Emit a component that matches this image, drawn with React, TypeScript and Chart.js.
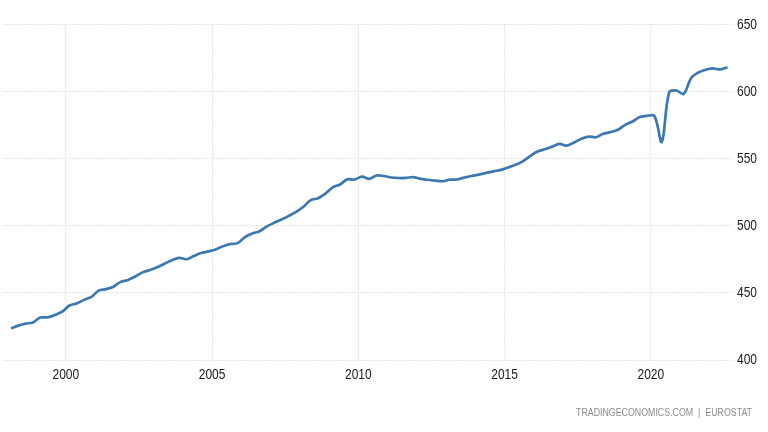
import React, { useEffect, useRef } from "react";
import { Chart, registerables } from "chart.js";

Chart.register(...registerables);

// Quarterly series starting 1998 Q1
const startYear = 1998;
const quarterlyValues: number[] = [
  423.6, 425.6, 427.1, 428.0, // 1998
  431.6, 431.8, 433.5, 436.0, // 1999
  440.6, 442.2, 444.8, 447.0, // 2000
  451.7, 452.8, 454.6, 458.2, // 2001
  459.6, 462.2, 465.3, 467.1, // 2002
  469.1, 471.7, 474.4, 476.1, // 2003
  475.1, 477.5, 479.7, 480.9, // 2004
  482.4, 484.8, 486.4, 487.1, // 2005
  491.6, 494.2, 496.0, 499.6, // 2006
  502.2, 504.7, 507.4, 510.4, // 2007
  514.2, 519.1, 520.6, 524.0, // 2008
  528.6, 530.8, 534.6, 534.5, // 2009
  536.6, 535.0, 537.5, 537.1, // 2010
  536.0, 535.6, 535.7, 536.3, // 2011
  535.0, 534.3, 533.7, 533.2, // 2012
  534.4, 534.5, 535.9, 537.1, // 2013
  538.1, 539.4, 540.6, 541.7, // 2014
  543.5, 545.5, 548.0, 552.0, // 2015
  555.3, 557.0, 559.0, 561.1, // 2016
  559.7, 562.1, 564.9, 566.5, // 2017
  566.0, 568.6, 569.8, 571.6, // 2018
  575.2, 577.7, 581.0, 581.9, // 2019
  581.8, 562.5, 599.3, 600.8, // 2020
  598.3, 610.0, 614.2, 616.3, // 2021
  617.3, 616.5, 618.2,        // 2022
];

const xTickYears = [2000, 2005, 2010, 2015, 2020];
const yTickValues = [400, 450, 500, 550, 600, 650];
const sourceText = "TRADINGECONOMICS.COM  |  EUROSTAT";

const FONT_FAMILY = "'Liberation Sans', Arial, sans-serif";

// Draws narrow (horizontally condensed) axis labels and the source note
const narrowLabels = {
  id: "narrowLabels",
  afterDraw(chart: any) {
    const ctx = chart.ctx as CanvasRenderingContext2D;
    const xs = chart.scales.x;
    const ys = chart.scales.y;
    const area = chart.chartArea;
    const squeeze = 0.8;
    ctx.save();
    ctx.fillStyle = "#1a1a1a";
    ctx.font = `15px ${FONT_FAMILY}`;
    ctx.textBaseline = "middle";
    // x labels
    ctx.textAlign = "center";
    for (const t of xs.ticks) {
      const px = xs.getPixelForValue(t.value);
      ctx.save();
      ctx.translate(px, area.bottom + 15);
      ctx.scale(squeeze, 1);
      ctx.fillText(String(t.value), 0, 0);
      ctx.restore();
    }
    // y labels
    ctx.textAlign = "left";
    for (const t of ys.ticks) {
      const py = ys.getPixelForValue(t.value);
      ctx.save();
      ctx.translate(area.right + 4, py);
      ctx.scale(squeeze, 1);
      ctx.fillText(String(t.value), 0, 0);
      ctx.restore();
    }
    // source note
    ctx.font = `11px ${FONT_FAMILY}`;
    ctx.fillStyle = "#8a8a8a";
    ctx.textAlign = "right";
    ctx.textBaseline = "alphabetic";
    const w = ctx.measureText(sourceText).width;
    const targetW = 176;
    ctx.translate(752, 416);
    ctx.scale(targetW / w, 1);
    ctx.fillText(sourceText, 0, 0);
    ctx.restore();
  },
};

export default function App() {
  const canvasRef = useRef<HTMLCanvasElement | null>(null);

  useEffect(() => {
    document.body.style.margin = "0";
    const canvas = canvasRef.current;
    if (!canvas) return;
    const points = quarterlyValues.map((v, i) => ({
      x: startYear + Math.floor(i / 4) + (i % 4) / 4 + 0.125,
      y: v,
    }));
    const chart = new Chart(canvas, {
      type: "line",
      data: {
        datasets: [
          {
            data: points,
            borderColor: "#3b78b2",
            borderWidth: 2.7,
            pointRadius: 0,
            tension: 0.35,
            fill: false,
          },
        ],
      },
      options: {
        responsive: false,
        animation: false,
        maintainAspectRatio: false,
        layout: { padding: { left: 3.5, right: 35, top: 24.5, bottom: 72 } },
        plugins: { legend: { display: false }, tooltip: { enabled: false } },
        scales: {
          x: {
            type: "linear",
            min: 1997.87,
            max: 2022.81,
            afterBuildTicks: (axis: any) => {
              axis.ticks = xTickYears.map((v) => ({ value: v }));
            },
            ticks: { display: false },
            grid: { color: "#cccccc", drawTicks: false, lineWidth: 1 },
            border: { display: false, dash: [1, 2] },
          },
          y: {
            position: "right",
            min: 400,
            max: 650,
            afterBuildTicks: (axis: any) => {
              axis.ticks = yTickValues.map((v) => ({ value: v }));
            },
            ticks: { display: false },
            grid: { color: "#cccccc", drawTicks: false, lineWidth: 1 },
            border: { display: false, dash: [1, 2] },
          },
        },
      },
      plugins: [narrowLabels],
    });
    return () => chart.destroy();
  }, []);

  return (
    <div style={{ position: "relative", width: 768, height: 432, background: "#fff" }}>
      <canvas ref={canvasRef} width={768} height={432} style={{ display: "block" }} />
    </div>
  );
}
